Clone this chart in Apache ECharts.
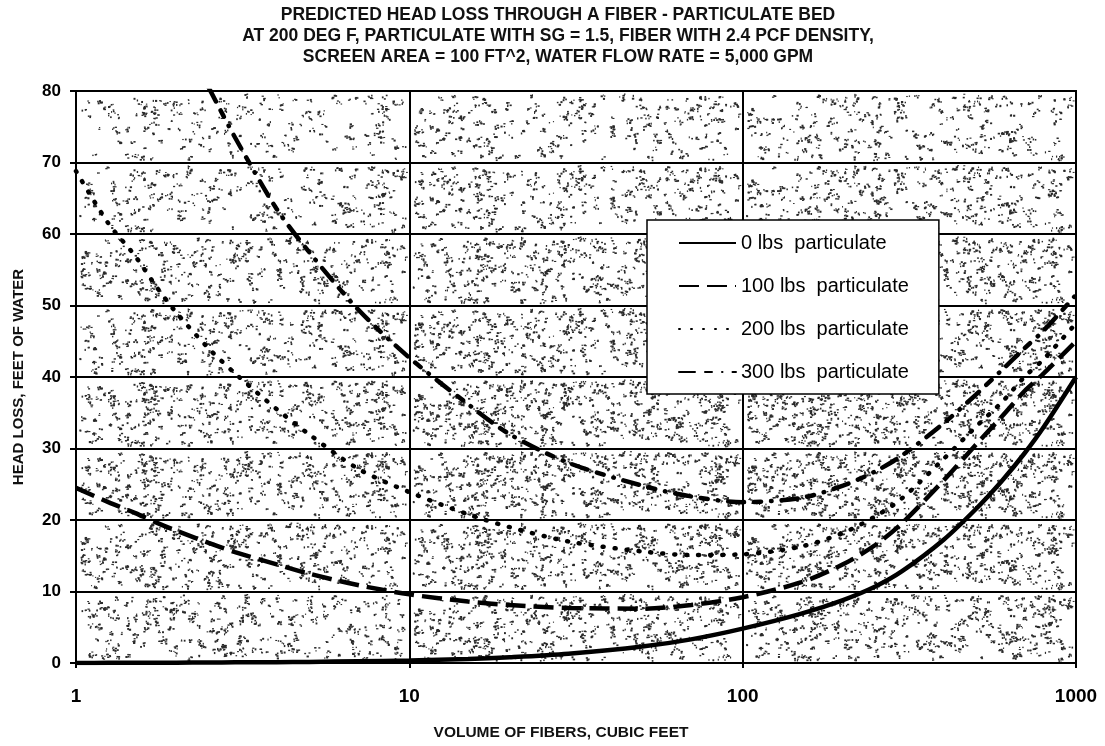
<!DOCTYPE html>
<html>
<head>
<meta charset="utf-8">
<script src="https://cdn.jsdelivr.net/npm/echarts@6/dist/echarts.min.js"></script>
<style>
  html, body { margin: 0; padding: 0; background: #fff; }
  #chart { width: 1105px; height: 746px; }
</style>
</head>
<body>
<div id="chart"></div>
<script>
// ---- data ----
const titleLines = [
  'PREDICTED HEAD LOSS THROUGH A FIBER - PARTICULATE BED',
  'AT 200 DEG F, PARTICULATE WITH SG = 1.5, FIBER WITH 2.4 PCF DENSITY,',
  'SCREEN AREA = 100 FT^2, WATER FLOW RATE = 5,000 GPM'
];
const xTickLabels = ['1', '10', '100', '1000'];
const xTickValues = [1, 10, 100, 1000];
const yTickValues = [0, 10, 20, 30, 40, 50, 60, 70, 80];
const seriesNames = ['0 lbs  particulate', '100 lbs  particulate', '200 lbs  particulate', '300 lbs  particulate'];

// fiber volume (cubic feet)
const fiberVolume = [1, 1.25, 1.5, 1.75, 2, 2.5, 3, 4, 5, 7, 10, 15, 20, 30, 50, 70, 100, 150, 200, 250, 300, 400, 500, 600, 700, 800, 1000];
// head loss (feet of water)
const loss0   = [0, 0.02, 0.03, 0.04, 0.05, 0.07, 0.09, 0.12, 0.15, 0.25, 0.35, 0.55, 0.8, 1.3, 2.3, 3.3, 4.8, 6.9, 8.8, 10.7, 12.8, 17.2, 21.5, 25.5, 29.3, 33, 40];
const loss100 = [24.5, 22.5, 21, 19.6, 18.5, 16.8, 15.5, 13.8, 12.5, 10.9, 9.6, 8.6, 8.1, 7.7, 7.6, 8.1, 9.2, 11.3, 13.8, 16.5, 19.5, 25.5, 30.5, 34.5, 38, 40.5, 45];
const loss200 = [68.8, 61.5, 57, 52.5, 49, 44, 40.5, 35.5, 32, 27.2, 23.9, 20.8, 19, 17, 15.6, 15.1, 15.2, 16.3, 18.2, 20.5, 23, 28.5, 33, 36.5, 40, 42.5, 47.5];
const loss300 = [null, null, null, null, null, 80.5, 73.5, 63.5, 57.5, 49.5, 42.7, 36.2, 32, 28, 24.8, 23.3, 22.5, 23.1, 24.8, 26.8, 29, 33.5, 37.5, 41, 44, 46.5, 51.5];

// ---- styling ----
const bandDensity = [0.8, 0.9, 1.0, 1.0, 0.85, 0.8, 0.65, 0.5];   // texture per 10-ft band, bottom up
const columnDensity = [0.8, 1.0, 1.05];                              // texture per decade
const dashes = ['solid', [20, 8], [1, 11], [16, 10, 7, 10, 0.5, 10]];
const caps = ['butt', 'butt', 'round', 'round'];
const sans = 'Arial, "Liberation Sans", sans-serif';

const pair = (ys) => fiberVolume.map((x, i) => [x, ys[i]]);
const seriesData = [loss0, loss100, loss200, loss300];

const chart = echarts.init(document.getElementById('chart'), null, { renderer: 'canvas' });

chart.setOption({
  backgroundColor: '#ffffff',
  animation: false,
  title: {
    text: titleLines.join('\n'),
    left: 553,
    top: 0,
    textAlign: 'center',
    textStyle: {
      fontFamily: sans,
      fontWeight: 'bold',
      fontSize: 17.5,
      lineHeight: 21,
      color: '#111'
    }
  },
  grid: {
    left: 76, right: 29, top: 91, bottom: 71,
    show: true,
    backgroundColor: '#ffffff',
    borderColor: '#000',
    borderWidth: 2
  },
  legend: {
    orient: 'vertical',
    left: 647,
    top: 220,
    padding: [13, 30, 12, 31],
    backgroundColor: '#fff',
    borderColor: '#000',
    borderWidth: 1.5,
    borderRadius: 0,
    itemWidth: 57,
    itemHeight: 20,
    itemGap: 23,
    itemStyle: { opacity: 0 },
    data: seriesNames,
    textStyle: { fontFamily: sans, fontSize: 20, color: '#000' }
  },
  xAxis: {
    type: 'log',
    logBase: 10,
    min: xTickValues[0],
    max: xTickValues[xTickValues.length - 1],
    name: 'VOLUME OF FIBERS, CUBIC FEET',
    nameLocation: 'middle',
    nameGap: 62,
    nameTextStyle: { fontFamily: sans, fontWeight: 'bold', fontSize: 15.5, color: '#111', padding: [0, 30, 0, 0] },
    axisLine: { show: true, lineStyle: { color: '#000', width: 2 } },
    axisTick: { show: true, length: 5, lineStyle: { color: '#000', width: 2 } },
    minorTick: { show: false },
    axisLabel: {
      margin: 24,
      fontFamily: sans,
      fontWeight: 'bold',
      fontSize: 19,
      color: '#000',
      formatter: (v) => { const i = xTickValues.indexOf(Math.round(v)); return i >= 0 ? xTickLabels[i] : ''; }
    },
    splitLine: { show: true, lineStyle: { color: '#000', width: 2 } }
  },
  yAxis: {
    type: 'value',
    min: yTickValues[0],
    max: yTickValues[yTickValues.length - 1],
    interval: 10,
    name: 'HEAD LOSS, FEET OF WATER',
    nameLocation: 'middle',
    nameGap: 50,
    nameRotate: 90,
    nameTextStyle: { fontFamily: sans, fontWeight: 'bold', fontSize: 15, color: '#111' },
    axisLine: { show: true, lineStyle: { color: '#000', width: 2 } },
    axisTick: { show: true, length: 6, lineStyle: { color: '#000', width: 2 } },
    axisLabel: {
      margin: 15,
      fontFamily: sans,
      fontWeight: 'bold',
      fontSize: 17,
      color: '#000'
    },
    splitLine: { show: true, lineStyle: { color: '#000', width: 2 } }
  },
  series: seriesNames.map((name, k) => ({
    name,
    type: 'line',
    data: pair(seriesData[k]),
    smooth: 0.3,
    showSymbol: false,
    symbol: 'none',
    connectNulls: false,
    clip: true,
    lineStyle: { color: '#000', width: 4.5, type: dashes[k], cap: caps[k] },
    itemStyle: { color: '#000' },
    z: 5
  }))
});

// ---- speckled scan texture for the plot area (decoration only) ----
function buildTexture() {
  const c = document.createElement('canvas');
  c.width = 1105; c.height = 746;
  const g = c.getContext('2d');
  g.fillStyle = '#ffffff';
  g.fillRect(0, 0, c.width, c.height);
  g.fillStyle = '#2a2a2a';
  let s = 987654;
  const rnd = () => { s = (s * 1103515245 + 12345) & 0x7fffffff; return s / 0x7fffffff; };
  const xs = xTickValues.map(v => chart.convertToPixel({ xAxisIndex: 0 }, v));
  const ys = yTickValues.map(v => chart.convertToPixel({ yAxisIndex: 0 }, v));
  for (let b = 0; b < ys.length - 1; b++) {
    for (let col = 0; col < xs.length - 1; col++) {
      const x0 = xs[col], x1 = xs[col + 1], y0 = ys[b + 1], y1 = ys[b];
      const n = Math.round((x1 - x0) * (y1 - y0) * 0.017 * bandDensity[b] * columnDensity[col]);
      for (let k = 0; k < n; k++) {
        const cx = x0 + 2 + rnd() * (x1 - x0 - 9), cy = y0 + 2 + rnd() * (y1 - y0 - 8);
        const m = 2 + Math.floor(rnd() * 4);
        for (let j = 0; j < m; j++) {
          g.fillRect(cx + rnd() * 5, cy + rnd() * 4, 1 + rnd() * 1.4, 1 + rnd() * 1.1);
        }
      }
    }
  }
  return c;
}
chart.setOption({ grid: { backgroundColor: { image: buildTexture(), repeat: 'no-repeat' } } });
</script>
</body>
</html>
